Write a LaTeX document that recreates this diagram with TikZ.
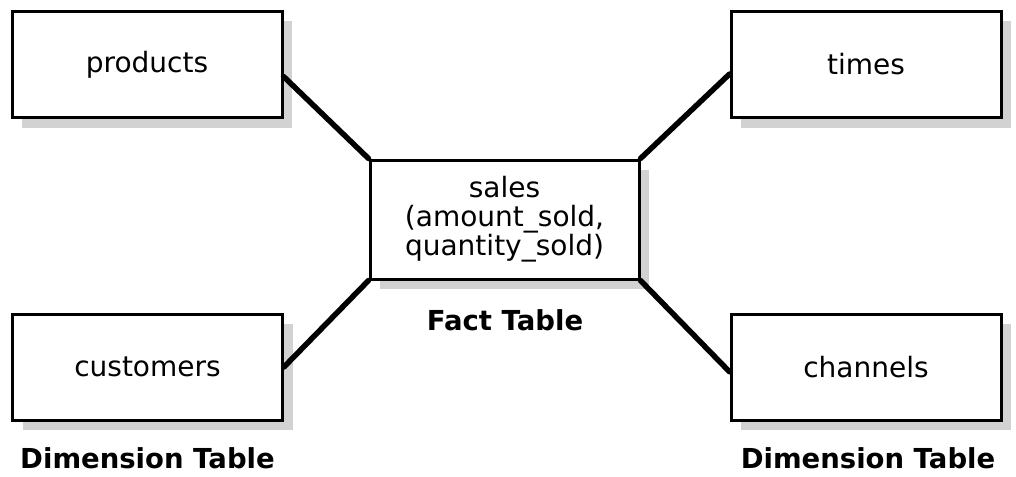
\documentclass[tikz,border=0pt]{standalone}
\usepackage{fontspec}
\setmainfont{DejaVu Sans}
\usetikzlibrary{shadows}

\begin{document}
\begin{tikzpicture}[x=1pt, y=-1pt,
    tablebox/.style={draw, line width=3pt, fill=white, inner sep=0pt,
        minimum width=270pt, minimum height=106pt, align=center,
        font=\fontsize{28}{29}\selectfont,
        drop shadow={shadow xshift=10pt, shadow yshift=-10pt, fill=gray!35, opacity=1}},
    factbox/.style={tablebox, minimum width=269pt, minimum height=119pt},
    caption/.style={font=\fontsize{27.5}{29}\selectfont\bfseries},
    link/.style={line width=5.5pt, line cap=round}]
    \useasboundingbox (0,0) rectangle (1016,476);

    % --- Dimension tables ---
    \node[tablebox] (products)  at (147,64.5) {products};
    \node[tablebox] (times)     at (866,64.5) {times};
    \node[tablebox] (customers) at (147.5,367) {customers};
    \node[tablebox] (channels)  at (866,367) {channels};

    % --- Fact table ---
    \node[factbox] (sales) at (504.5,219.5) {sales\\(amount\_sold,\\quantity\_sold)};

    % --- Captions ---
    \node[caption] (factlabel) at (505,320) {Fact Table};
    \node[caption] (dimleft)   at (147.5,458) {Dimension Table};
    \node[caption] (dimright)  at (868,458) {Dimension Table};

    % --- Links ---
    \draw[link] (products.-5)  -- (sales.north west);
    \draw[link] (times.184)    -- (sales.north east);
    \draw[link] (customers.east) -- (sales.south west);
    \draw[link] (channels.182) -- (sales.south east);
\end{tikzpicture}
\end{document}
